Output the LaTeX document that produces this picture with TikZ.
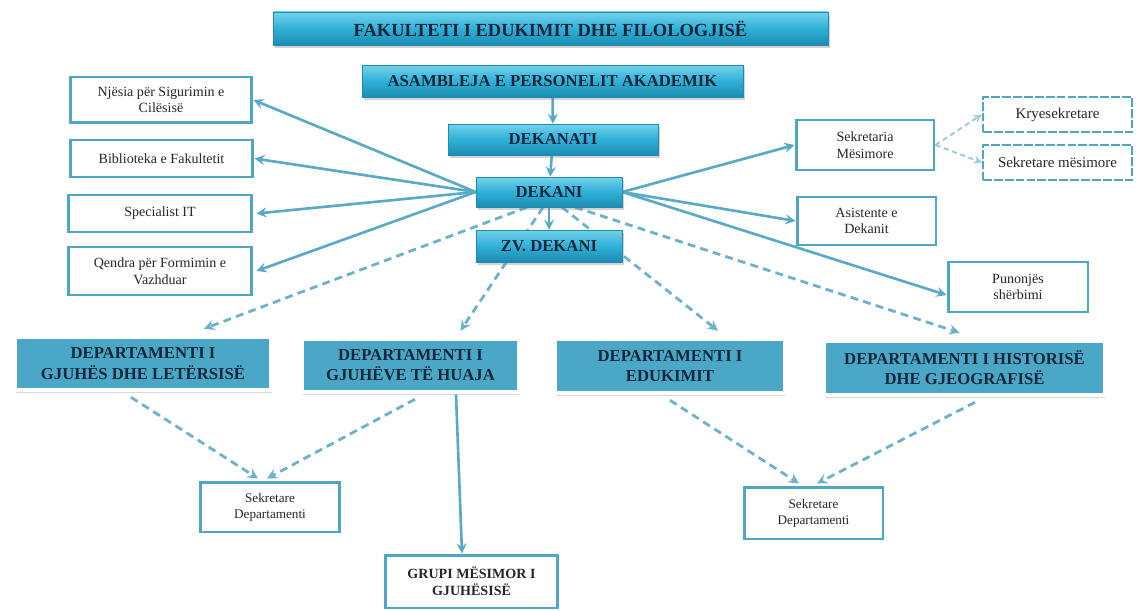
\documentclass[tikz,border=0pt]{standalone}
\usepackage{fontspec}
\setmainfont{Liberation Serif}
\usetikzlibrary{shadows,backgrounds}
\definecolor{glossL}{HTML}{74D2EC}
\definecolor{glossM}{HTML}{2FB0D7}
\definecolor{glossD}{HTML}{1C8CB1}
\definecolor{deptfill}{HTML}{4AA7C5}
\definecolor{inkblue}{HTML}{13263A}
\definecolor{framecol}{HTML}{4FA6C4}
\definecolor{linecol}{HTML}{59A9C7}
\definecolor{dashcol}{HTML}{6FB1CA}
\definecolor{palecol}{HTML}{9DCADB}

\begin{document}
\begin{tikzpicture}[x=0.02cm, y=-0.02cm]

\tikzstyle{topbox}=[rectangle, top color=glossL, bottom color=glossD, middle color=glossM, draw=glossD, line width=0.3pt, drop shadow={shadow xshift=1pt, shadow yshift=-1.5pt, opacity=0.35}, font=\fontsize{9.5}{11}\selectfont\bfseries, text=inkblue, inner sep=0pt]
\tikzstyle{deptbox}=[rectangle, fill=deptfill, draw=white, line width=2.6pt, drop shadow={shadow xshift=0.8pt, shadow yshift=-1.6pt, opacity=0.3}, font=\fontsize{9.5}{11.5}\selectfont\bfseries, text=inkblue, align=center, inner sep=0pt]
\tikzstyle{whitebox}=[rectangle, draw=framecol, line width=1.7pt, fill=white, font=\fontsize{8}{9.5}\selectfont, text=black!85, align=center, inner sep=0pt]
\tikzstyle{dashbox}=[whitebox, dash pattern=on 5pt off 1.2pt, line width=1.3pt, font=\fontsize{8.5}{10}\selectfont]
\tikzstyle{arrow}=[->, >=stealth, draw=linecol, line width=1.5pt]
\tikzstyle{dasharrow}=[->, >=stealth, draw=dashcol, line width=1.6pt, dash pattern=on 4.5pt off 3pt]
\tikzstyle{palearrow}=[->, >=stealth, draw=palecol, line width=1.1pt, dash pattern=on 3pt off 2pt]

\useasboundingbox (0,0) rectangle (1136,611);

\node (fak) [topbox, minimum width=11.1cm, minimum height=0.66cm, font=\fontsize{10.5}{12}\selectfont\bfseries] at (550.5,28.5) {FAKULTETI I EDUKIMIT DHE FILOLOGJISË};
\node (asam) [topbox, minimum width=7.62cm, minimum height=0.64cm] at (552.5,81) {ASAMBLEJA E PERSONELIT AKADEMIK};
\node (dekanati) [topbox, minimum width=4.2cm, minimum height=0.62cm] at (553,139.5) {DEKANATI};
\node (dekani) [topbox, minimum width=2.92cm, minimum height=0.6cm] at (549,192) {DEKANI};
\node (zv) [topbox, minimum width=2.92cm, minimum height=0.64cm] at (549,246) {ZV. DEKANI};

\node (njesia) [whitebox, minimum width=3.64cm, minimum height=0.92cm] at (161,100) {Njësia për Sigurimin e\\Cilësisë};
\node (bibl) [whitebox, minimum width=3.66cm, minimum height=0.74cm] at (161.5,158.5) {Biblioteka e Fakultetit};
\node (spec) [whitebox, minimum width=3.68cm, minimum height=0.74cm] at (160,213.5) {Specialist IT};
\node (qendra) [whitebox, minimum width=3.68cm, minimum height=0.96cm] at (160,271) {Qendra për Formimin e\\Vazhduar};

\node (sekmes) [whitebox, minimum width=2.76cm, minimum height=1cm] at (865,145) {Sekretaria\\Mësimore};
\node (asist) [whitebox, minimum width=2.78cm, minimum height=0.96cm] at (866.5,221) {Asistente e\\Dekanit};
\node (pun) [whitebox, minimum width=2.8cm, minimum height=1cm] at (1018,287) {Punonjës\\shërbimi};
\node (krye) [dashbox, minimum width=2.98cm, minimum height=0.7cm] at (1057.5,114.5) {Kryesekretare};
\node (sekm2) [dashbox, minimum width=2.98cm, minimum height=0.7cm] at (1057.5,162.5) {Sekretare mësimore};

\node (dep1) [deptbox, minimum width=5.12cm, minimum height=1.06cm] at (143,363.5) {DEPARTAMENTI I\\GJUHËS DHE LETËRSISË};
\node (dep2) [deptbox, minimum width=4.34cm, minimum height=1.06cm] at (410.5,365.5) {DEPARTAMENTI I\\GJUHËVE TË HUAJA};
\node (dep3) [deptbox, minimum width=4.6cm, minimum height=1.08cm] at (670,366) {DEPARTAMENTI I\\EDUKIMIT};
\node (dep4) [deptbox, minimum width=5.62cm, minimum height=1.08cm] at (964.5,368) {DEPARTAMENTI I HISTORISË\\DHE GJEOGRAFISË};

\node (sekl) [whitebox, minimum width=2.8cm, minimum height=1cm, font=\fontsize{7.5}{9}\selectfont] at (270,507) {Sekretare\\Departamenti};
\node (sekr) [whitebox, minimum width=2.78cm, minimum height=1.04cm, font=\fontsize{7.5}{9}\selectfont] at (813.5,513) {Sekretare\\Departamenti};
\node (grupi) [whitebox, minimum width=3.46cm, minimum height=1.06cm, font=\fontsize{8}{9.5}\selectfont\bfseries] at (471.5,581.5) {GRUPI MËSIMOR I\\GJUHËSISË};

\begin{scope}[on background layer]
\draw [arrow] (asam) -- (dekanati);
\draw [arrow] (dekanati) -- (dekani);
\draw [arrow] (dekani) -- (zv);

\draw [arrow] (dekani.west) -- (njesia.east);
\draw [arrow] (dekani.west) -- (bibl.east);
\draw [arrow] (dekani.west) -- ([xshift=0.06cm]spec.east);
\draw [arrow] (dekani.west) -- ([xshift=0.06cm]qendra.east);

\draw [arrow] (dekani.east) -- (sekmes.west);
\draw [arrow] (dekani.east) -- (asist.west);
\draw [arrow] (dekani.east) -- ([yshift=-0.16cm]pun.west);

\draw [palearrow] (sekmes.east) -- (krye.west);
\draw [palearrow] (sekmes.east) -- (sekm2.west);

\draw [dasharrow] ([xshift=-0.44cm]dekani.south) -- ([xshift=1.22cm, yshift=0.12cm]dep1.north);
\draw [dasharrow] ([xshift=-0.12cm]dekani.south) -- ([xshift=1cm, yshift=0.12cm]dep2.north);
\draw [dasharrow] ([xshift=0.26cm]dekani.south) -- ([xshift=0.96cm, yshift=0.12cm]dep3.north);
\draw [dasharrow] ([xshift=0.52cm]dekani.south) -- ([xshift=-0.1cm, yshift=0.12cm]dep4.north);

\draw [dasharrow] ([xshift=-0.24cm, yshift=-0.1cm]dep1.south) -- ([xshift=-0.24cm, yshift=0.04cm]sekl.north);
\draw [dasharrow] ([xshift=0.09cm, yshift=-0.1cm]dep2.south) -- ([xshift=-0.06cm, yshift=0.04cm]sekl.north);
\draw [arrow] ([xshift=0.91cm]dep2.south) -- ([xshift=-0.19cm]grupi.north);
\draw [dasharrow] ([yshift=-0.1cm]dep3.south) -- ([xshift=-0.29cm, yshift=0.04cm]sekr.north);
\draw [dasharrow] ([xshift=0.21cm, yshift=-0.1cm]dep4.south) -- ([xshift=0.07cm, yshift=0.04cm]sekr.north);
\end{scope}

\end{tikzpicture}
\end{document}
